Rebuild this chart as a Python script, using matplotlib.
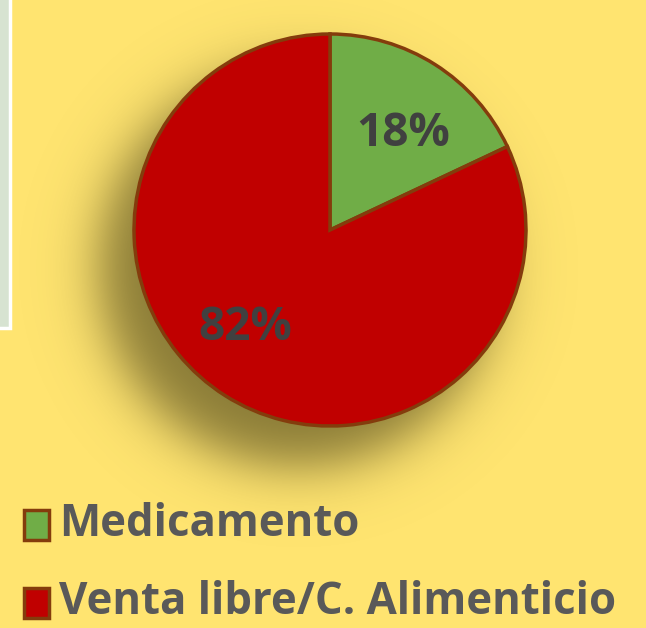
import numpy as np
import matplotlib.pyplot as plt
from matplotlib.patches import Rectangle

# Data
labels = ['Medicamento', 'Venta libre/C. Alimenticio']
values = [18, 82]
colors = ['#70AD47', '#C00000']
pct_text = ['18%', '82%']

bg = '#FFE470'
edge = '#843C0C'

fig = plt.figure(figsize=(6.46, 6.28), dpi=100, facecolor=bg)
ax = fig.add_axes([0, 0, 1, 1])
ax.set_facecolor(bg)

cx, cy, r = 330, 398, 196

# soft shadow behind the pie (lower-left)
sx, sy = cx - 32, cy - 38
X, Y = np.meshgrid(np.arange(0, 646), np.arange(0, 628))
d = np.hypot(X - sx, Y - sy)
alpha = 0.66 / (1 + np.exp((d - r - 2) / 16.0))
shadow = np.zeros((628, 646, 4))
shadow[..., 0] = 0.30
shadow[..., 1] = 0.27
shadow[..., 2] = 0.10
shadow[..., 3] = alpha
ax.imshow(shadow, extent=(0, 646, 0, 628), origin='lower', zorder=1, interpolation='bilinear')

# partial panel at top-left
ax.add_patch(Rectangle((-10, 300), 20, 340, facecolor='#D7E3D1', edgecolor='white',
                       linewidth=2.5, zorder=2))

wedges, _ = ax.pie(values, colors=colors, startangle=90, counterclock=False,
                   center=(cx, cy), radius=r, frame=True,
                   wedgeprops=dict(edgecolor=edge, linewidth=2.5, zorder=3))
ax.set_xlim(0, 646)
ax.set_ylim(0, 628)
ax.set_aspect('equal')
ax.axis('off')

ax.text(403, 628 - 133, pct_text[0], fontsize=33, fontweight='bold', color='#404040',
        ha='center', va='center', family='Open Sans', zorder=4)
ax.text(245, 628 - 327, pct_text[1], fontsize=33, fontweight='bold', color='#404040',
        ha='center', va='center', family='Open Sans', zorder=4)

# legend
leg_y = [628 - 525, 628 - 603]
for yy, lab, col in zip(leg_y, labels, colors):
    ax.add_patch(Rectangle((24, yy - 15), 25, 30, facecolor=col, edgecolor=edge,
                           linewidth=2.5, zorder=4))
    ax.text(59, yy, lab, fontsize=31.5, fontweight='bold', color='#595959',
            ha='left', va='center', family='Open Sans', zorder=4)

fig.savefig('out.png', dpi=100, facecolor=bg)
